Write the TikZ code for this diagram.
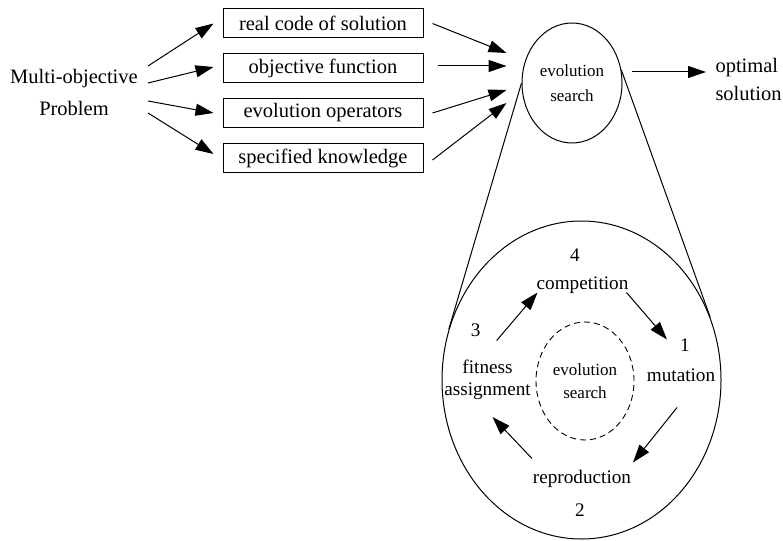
\documentclass[tikz,border=0pt]{standalone}
\usepackage{fontspec}
\setmainfont{Liberation Serif}
\usepackage{tikz}
\usetikzlibrary{arrows.meta,shapes.geometric}

\begin{document}
\begin{tikzpicture}[x=1pt,y=-1pt,line width=1pt,
    arr/.style={-{Triangle[length=18pt,width=12pt]}},
    box/.style={draw,minimum width=200pt,minimum height=29pt,inner sep=0pt,font=\fontsize{20.5}{24}\selectfont},
    lbl/.style={inner sep=0pt,align=center,font=\fontsize{19.2}{21.5}\selectfont}]
  \useasboundingbox (0,0) rectangle (783,540);
  \node[inner sep=0pt,align=center,font=\fontsize{20.5}{32}\selectfont] (prob) at (74,92) {Multi-objective\\Problem};
  \node[box] (b1) at (323,23.5) {real code of solution};
  \node[box] (b2) at (323,68) {objective function};
  \node[box] (b3) at (323,113) {evolution operators};
  \node[box] (b4) at (323,158) {specified knowledge};
  \node[draw,ellipse,minimum width=100pt,minimum height=120pt,inner sep=0pt,align=center,font=\fontsize{17}{25}\selectfont] (ev) at (572,83) {evolution\\search};
  \node[anchor=west,inner sep=0pt,align=left,font=\fontsize{20.5}{28}\selectfont] (opt) at (715,79) {optimal\\solution};
  \draw[arr] ([shift={(74,-26)}]prob.center) -- ([shift={(-9,0)}]b1.west);
  \draw[arr] ([shift={(74,-9)}]prob.center) -- ([shift={(-9,-1)}]b2.west);
  \draw[arr] ([shift={(74,9)}]prob.center) -- ([shift={(-9,0)}]b3.west);
  \draw[arr] ([shift={(74,21)}]prob.center) -- ([shift={(-9,-4)}]b4.west);
  \draw[arr] ([shift={(9,0)}]b1.east) -- ([shift={(-15,-30)}]ev.west);
  \draw[arr] ([shift={(14,-2)}]b2.east) -- ([shift={(-15,-17)}]ev.west);
  \draw[arr] ([shift={(9,0)}]b3.east) -- ([shift={(-15,7)}]ev.west);
  \draw[arr] ([shift={(9,2)}]b4.east) -- ([shift={(-15,20)}]ev.west);
  \draw[arr] ([shift={(9,-11)}]ev.east) -- ([shift={(-9,-7)}]opt.west);

  \node[draw,ellipse,minimum width=279pt,minimum height=318pt,inner sep=0pt] (big) at (581.5,380) {};
  \draw (ev.180) -- (big.159);
  \draw (ev.15) -- (big.26);
  \node[draw,ellipse,dash pattern=on 6pt off 4pt,line width=0.9pt,minimum width=98pt,minimum height=118pt,inner sep=0pt,align=center,font=\fontsize{17}{23}\selectfont] (core) at (585,381) {evolution\\search};
  \node[lbl] (n4) at (575,255.5) {4};
  \node[lbl] (comp) at (582.5,285.5) {competition};
  \node[lbl] (n1) at (685,345.5) {1};
  \node[lbl] (mut) at (681,375.5) {mutation};
  \node[lbl] (rep) at (582,478.5) {reproduction};
  \node[lbl] (n2) at (580,510.5) {2};
  \node[lbl] (n3) at (475.7,330.5) {3};
  \node[lbl] (fit) at (487.5,380) {fitness\\assignment};
  \draw[arr] ([shift={(21,10)}]n3.center) -- ([shift={(-45,7)}]comp.center);
  \draw[arr] ([shift={(44,7)}]comp.center) -- ([shift={(-18,-6)}]n1.center);
  \draw[arr] ([shift={(-4,32)}]mut.center) -- ([shift={(51,-16)}]rep.center);
  \draw[arr] ([shift={(-50,-20)}]rep.center) -- ([shift={(5,37)}]fit.center);
\end{tikzpicture}
\end{document}
